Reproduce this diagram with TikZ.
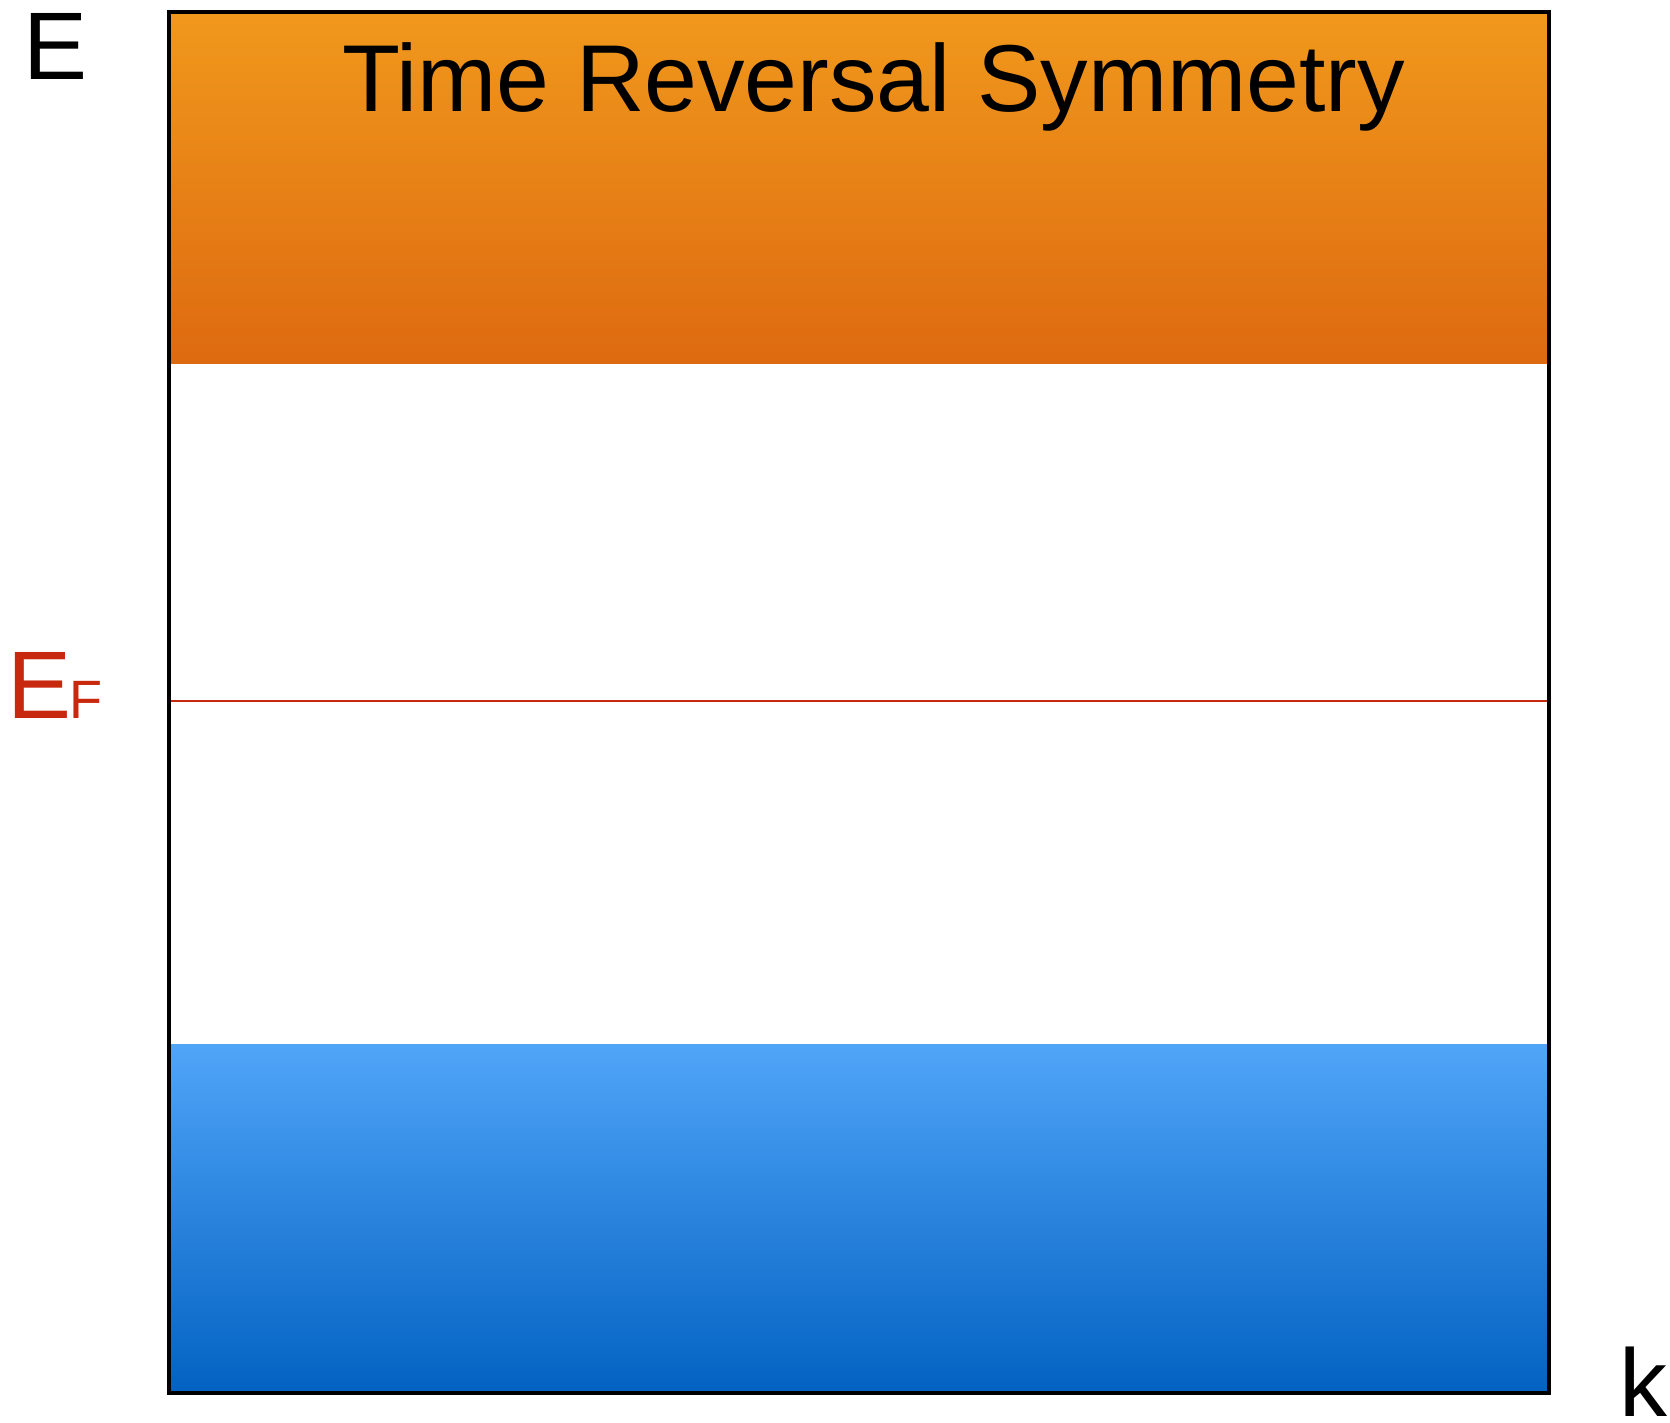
\documentclass[tikz,border=0pt]{standalone}
\usepackage{fontspec}
\setmainfont{Liberation Sans}
\definecolor{bandtop}{HTML}{F0981C}
\definecolor{bandbot}{HTML}{DE6A10}
\definecolor{valtop}{HTML}{50A5F8}
\definecolor{valbot}{HTML}{0362C2}
\definecolor{fermi}{HTML}{C8290E}
\tikzset{
  lbl/.style={inner sep=0pt, anchor=base west, font=\fontsize{48}{48}\selectfont},
  frame/.style={draw=black, line width=2pt},
}
\begin{document}
\begin{tikzpicture}[x=0.5pt, y=-0.5pt]
\useasboundingbox (0,0) rectangle (1670,1423);
% conduction band
\shade[top color=bandtop, bottom color=bandbot] (171,15) rectangle (1547,363);
% valence band
\shade[top color=valtop, bottom color=valbot] (171,1044) rectangle (1547,1391);
% Fermi level
\coordinate (fl) at (171,701);
\coordinate (fr) at (1547,701);
\draw[fermi, line width=1pt] (fl) -- (fr);
% frame
\draw[frame] (169,12.5) rectangle (1549,1393);
% labels
\node[lbl] (E) at (23,80) {E};
\node[lbl] (k) at (1619,1416) {k};
\node[inner sep=0pt, anchor=base, font=\fontsize{47.5}{47.5}\selectfont] (title) at (873.5,112) {Time Reversal Symmetry};
\node[lbl, text=fermi] (EF) at (7,718) {E\kern-1pt{\fontsize{27}{27}\selectfont F}};
\end{tikzpicture}
\end{document}
